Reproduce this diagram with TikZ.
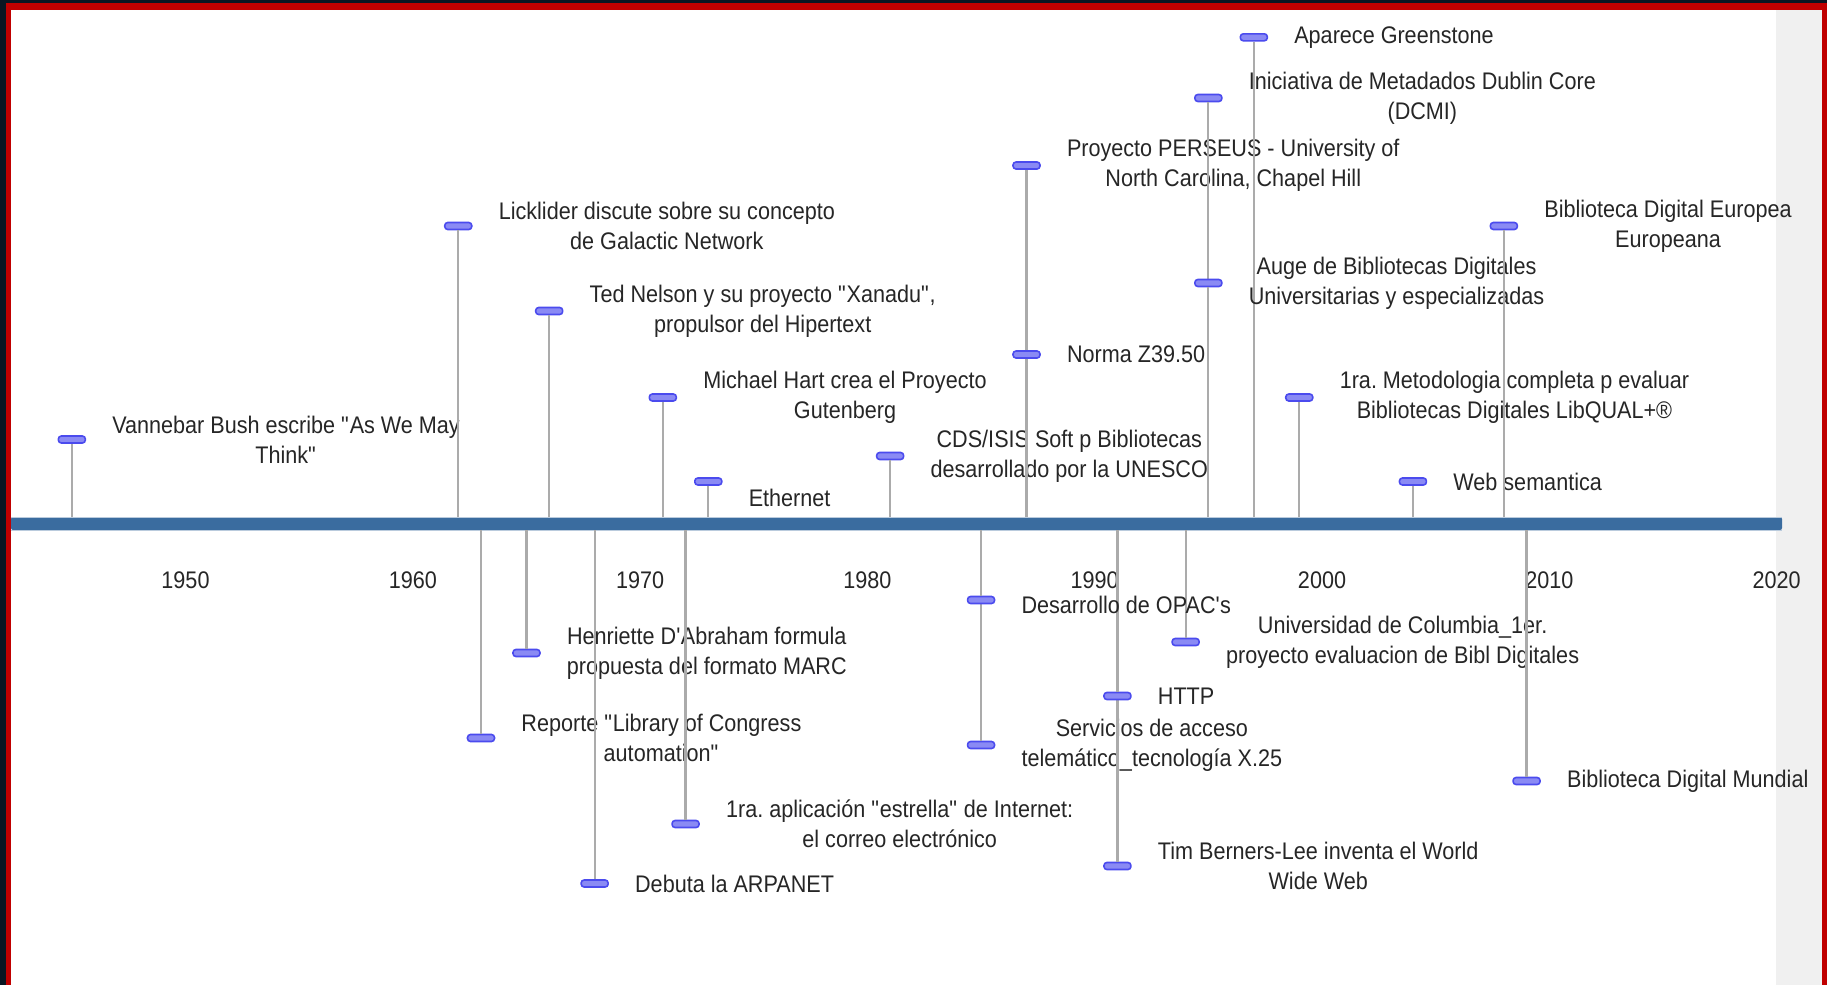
\documentclass[tikz,border=0pt]{standalone}
\usepackage{fontspec}
\setmainfont{Liberation Sans}[FakeStretch=0.9]
\usepackage{tikz}
\usetikzlibrary{positioning}
\definecolor{frameRed}{HTML}{C00000}
\definecolor{frameDark}{HTML}{0A1622}
\definecolor{barBlue}{HTML}{3A6C9F}
\definecolor{markBlue}{HTML}{4B4BEE}
\definecolor{stemGray}{HTML}{ABABAB}
\definecolor{textGray}{HTML}{262626}
\tikzstyle{stem}=[stemGray, line width=2.2]
\tikzstyle{marker}=[draw=markBlue, fill=markBlue!65!white, line width=1.6, rounded corners=3, minimum width=27, minimum height=7, inner sep=0]
\tikzstyle{event}=[align=center, inner sep=0, text=textGray, font=\fontsize{24}{30}\selectfont]
\tikzstyle{year}=[inner sep=0, text=textGray, font=\fontsize{24}{30}\selectfont]
\newcommand{\qq}{\textquotedbl}
\newcommand{\ap}{\textquotesingle}

\begin{document}
\frenchspacing
\begin{tikzpicture}[x=1pt, y=-1pt]
      \def\xpos#1{185.5+(#1-1950)*22.73};
      \def\bartop{517};
      \def\barbot{530};
      % 出来事: 名前, 年, 印の高さ, 文, 軸の端
      \def\event#1#2#3#4#5{%
        \coordinate (B#1) at ({\xpos{#2}},#5);
        \node[marker] (M#1) at ({\xpos{#2}},#3) {};
        \draw[stem] (B#1) -- (M#1);
        \node[event, right=26pt of M#1] (T#1) {#4};
      };
      \useasboundingbox (0,0) rectangle (1827,985);

      % 背景
      \fill[white] (0,0) rectangle (1827,985);
      \fill[black!6] (1776,10) rectangle (1822,985);

      % 時間軸
      \coordinate (BarL) at (11,\bartop);
      \coordinate (BarR) at (1782,\barbot);
      \fill[barBlue, rounded corners=2] (BarL) rectangle (BarR);
      \draw[barBlue!35!white, line width=1] (BarL) -- (BarL -| BarR);
      \draw[barBlue!35!white, line width=1] (BarL |- BarR) -- (BarR);

      % 年の目盛り
      \foreach \yr in {1950,1960,...,2020}
        \node[year] (Y\yr) at ({\xpos{\yr}},580) {\yr};

      % 軸より上の出来事
      \event{A1}{1945}{439.5}{Vannebar Bush escribe \qq As We May\\Think\qq}{\bartop}
      \event{A2}{1962}{226}{Licklider discute sobre su concepto\\de Galactic Network}{\bartop}
      \event{A3}{1966}{311}{Ted Nelson y su proyecto \qq Xanadu\qq,\\propulsor del Hipertext}{\bartop}
      \event{A4}{1971}{397.5}{Michael Hart crea el Proyecto\\Gutenberg}{\bartop}
      \event{A6}{1981}{456}{CDS/ISIS Soft p Bibliotecas\\desarrollado por la UNESCO}{\bartop}
      \event{A7}{1987}{165.5}{Proyecto PERSEUS - University of\\North Carolina, Chapel Hill}{\bartop}
      \event{A8}{1987}{354.5}{Norma Z39.50}{\bartop}
      \event{A11}{1997}{37.3}{Aparece Greenstone}{\bartop}
      \event{A9}{1995}{98}{Iniciativa de Metadados Dublin Core\\(DCMI)}{\bartop}
      \event{A10}{1995}{283}{Auge de Bibliotecas Digitales\\Universitarias y especializadas}{\bartop}
      \event{A12}{1999}{397.5}{1ra. Metodologia completa p evaluar\\Bibliotecas Digitales LibQUAL+®}{\bartop}
      \event{A13}{2004}{481.5}{Web semantica}{\bartop}
      \event{A14}{2008}{226}{Biblioteca Digital Europea\\Europeana}{\bartop}

      % Ethernet (文だけ少し下)
      \coordinate (BA5) at ({\xpos{1973}},\bartop);
      \node[marker] (MA5) at ({\xpos{1973}},481.5) {};
      \draw[stem] (BA5) -- (MA5);
      \node[event, right=26pt of MA5, yshift=-16pt] (TA5) {Ethernet};

      % 軸より下の出来事
      \event{C1}{1963}{738}{Reporte \qq Library of Congress\\automation\qq}{\barbot}
      \event{C2}{1965}{653}{Henriette D\ap Abraham formula\\propuesta del formato MARC}{\barbot}
      \event{C3}{1968}{883.5}{Debuta la ARPANET}{\barbot}
      \event{C4}{1972}{824}{1ra. aplicación \qq estrella\qq\ de Internet:\\el correo electrónico}{\barbot}
      \event{C6}{1985}{745}{Servicios de acceso\\telemático\_tecnología X.25}{\barbot}
      \event{C8}{1991}{866}{Tim Berners-Lee inventa el World\\Wide Web}{\barbot}
      \event{C7}{1991}{696}{HTTP}{\barbot}
      \event{C9}{1994}{642}{Universidad de Columbia\_1er.\\proyecto evaluacion de Bibl Digitales}{\barbot}
      \event{C10}{2009}{781}{Biblioteca Digital Mundial}{\barbot}

      % OPAC (文だけ少し下)
      \coordinate (BC5) at ({\xpos{1985}},\barbot);
      \node[marker] (MC5) at ({\xpos{1985}},600) {};
      \draw[stem] (BC5) -- (MC5);
      \node[event, right=26pt of MC5, yshift=-5pt] (TC5) {Desarrollo de OPAC\ap s};

      % 枠
      \fill[frameDark] (0,0) rectangle (6,985);
      \fill[frameDark] (0,0) rectangle (1827,3);
      \fill[frameRed] (6,3) rectangle (11,985);
      \fill[frameRed] (6,3) rectangle (1827,10);
      \fill[frameRed] (1822,3) rectangle (1827,985);
\end{tikzpicture}
\end{document}
